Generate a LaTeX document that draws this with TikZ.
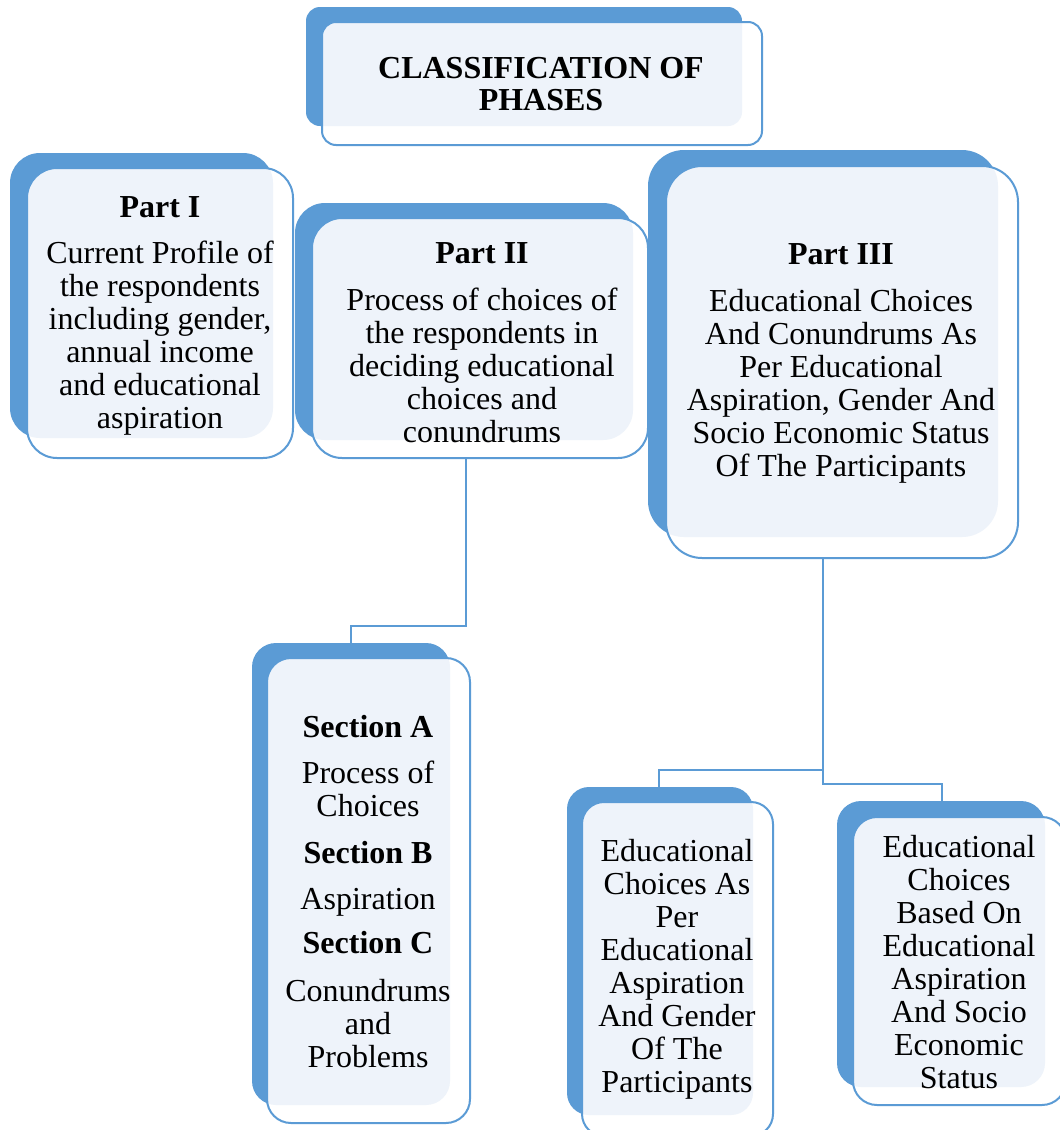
\documentclass[tikz,border=0pt]{standalone}
\usepackage{fontspec}
\setmainfont{Liberation Serif}
\usetikzlibrary{calc}

\definecolor{backblue}{HTML}{5B9BD5}
\definecolor{lightfill}{HTML}{EEF3FA}
\definecolor{edgeblue}{HTML}{5B9BD5}

\tikzset{
  edge/.style={draw=edgeblue, line width=2pt},
  link/.style={draw=edgeblue, line width=2pt},
  txt/.style={align=center, inner sep=0pt, font=\fontsize{32}{33}\selectfont},
}

% #1 name, #2/#3 back corners, #4/#5 front corners, #6 corner radius
\newcommand{\phasebox}[6]{%
  \fill[backblue, rounded corners=#6] #2 rectangle #3;
  \fill[white, rounded corners=#6] #4 rectangle #5;
  \begin{scope}
    \clip[rounded corners=#6] #2 rectangle #3;
    \fill[lightfill, rounded corners=#6] #4 rectangle #5;
  \end{scope}
  \draw[edge, rounded corners=#6] #4 rectangle #5;
  \coordinate (#1-nw) at #4;
  \coordinate (#1-se) at #5;
}

\begin{document}
\begin{tikzpicture}[x=1pt, y=-1pt]
\useasboundingbox (0,0) rectangle (1060,1130);

% boxes
\phasebox{title}{(306,7)}{(742,126)}{(322,22)}{(762,145)}{14pt}
\phasebox{p1}{(10,153)}{(273,438)}{(27,168)}{(293,458)}{30pt}
\phasebox{p2}{(295,203)}{(633,440)}{(312,218)}{(648,458)}{30pt}
\phasebox{p3}{(648,150)}{(998,537)}{(666,166)}{(1018,558)}{36pt}
\phasebox{sec}{(252,643)}{(450,1105)}{(267,658)}{(470,1123)}{24pt}
\phasebox{bl}{(567,787)}{(753,1115)}{(582,802)}{(773,1136)}{22pt}
\phasebox{br}{(837,801)}{(1045,1087)}{(853,817)}{(1066,1105)}{24pt}

% texts
\node[txt, font=\fontsize{32}{32}\selectfont\bfseries] (titletext) at (541,84)
  {CLASSIFICATION OF\\PHASES};
\node[txt] (p1text) at (160,316)
  {\textbf{Part I}\\[13pt]Current Profile of\\the respondents\\including gender,\\annual income\\and educational\\aspiration};
\node[txt] (p2text) at (482,343)
  {\textbf{Part II}\\[14pt]Process of choices of\\the respondents in\\deciding educational\\choices and\\conundrums};
\node[txt] (p3text) at (841,363)
  {\textbf{Part III}\\[14pt]Educational Choices\\And Conundrums As\\Per Educational\\Aspiration, Gender And\\Socio Economic Status\\Of The Participants};
\node[txt] (sectext) at (368,892)
  {\textbf{Section A}\\[13pt]Process of\\Choices\\[14pt]\textbf{Section B}\\[13pt]Aspiration\\[11pt]\textbf{Section C}\\[15pt]Conundrums\\and\\Problems};
\node[txt] (bltext) at (677,969)
  {Educational\\Choices As\\Per\\Educational\\Aspiration\\And Gender\\Of The\\Participants};
\node[txt] (brtext) at (959,962)
  {Educational\\Choices\\Based On\\Educational\\Aspiration\\And Socio\\Economic\\Status};

% connector attachment points
\coordinate (p2-drop) at (466,458);
\coordinate (p2-bend) at (466,626);
\coordinate (sec-top) at (351,643);
\coordinate (p3-drop) at (823,558);
\coordinate (p3-left) at (823,770);
\coordinate (p3-right) at (823,784);
\coordinate (bl-top) at (659,787);
\coordinate (br-top) at (942,801);

% connectors
\draw[link] (p2-drop) -- (p2-bend) -| (sec-top);
\draw[link] (p3-drop) -- (p3-right) -| (br-top);
\draw[link] (p3-left) -| (bl-top);
\end{tikzpicture}
\end{document}
